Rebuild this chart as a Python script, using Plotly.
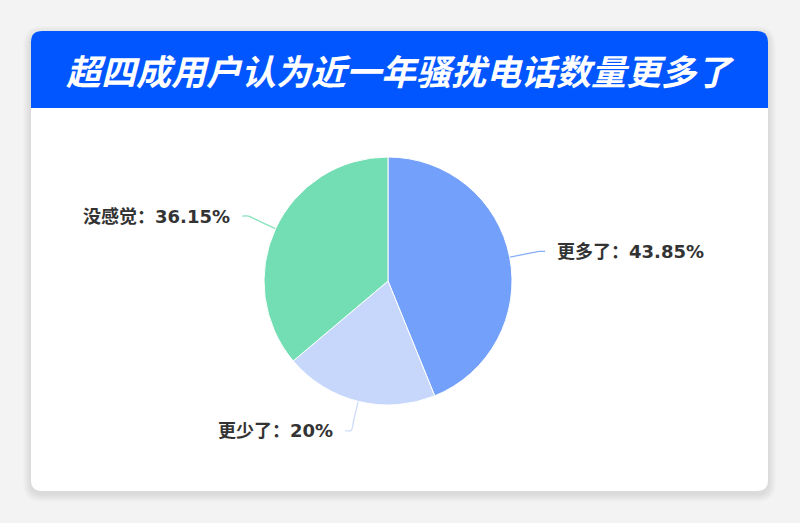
import math
import plotly.graph_objects as go

# ---- data ----
categories = ["更多了", "更少了", "没感觉"]
values = [43.85, 20, 36.15]
value_labels = ["43.85%", "20%", "36.15%"]
colors = ["#73a0fa", "#c6d7fb", "#73deb3"]
title_text = "超四成用户认为近一年骚扰电话数量更多了"

# ---- layout geometry (pixels) ----
W, H = 800, 523
cx, cy, R = 388, 281, 124
L1, L2, GAP = 30, 6, 10
card = (31, 31, 768, 491)
header_bottom = 108
rad = 11
BG = "#f3f3f3"


def rrect(x0, y0, x1, y1, r, top_only=False):
    if top_only:
        return (f"M{x0},{y1} L{x0},{y0+r} Q{x0},{y0} {x0+r},{y0} L{x1-r},{y0} "
                f"Q{x1},{y0} {x1},{y0+r} L{x1},{y1} Z")
    return (f"M{x0},{y0+r} Q{x0},{y0} {x0+r},{y0} L{x1-r},{y0} Q{x1},{y0} {x1},{y0+r} "
            f"L{x1},{y1-r} Q{x1},{y1} {x1-r},{y1} L{x0+r},{y1} Q{x0},{y1} {x0},{y1-r} Z")


shapes = []
# soft shadow
for i in range(8, 0, -1):
    shapes.append(dict(type="path", xref="x", yref="y", layer="below",
                       path=rrect(card[0]-i, card[1]-i+3, card[2]+i, card[3]+i+3, rad+i),
                       fillcolor="rgba(0,0,0,0.012)", line=dict(width=0)))
shapes.append(dict(type="path", xref="x", yref="y", layer="below",
                   path=rrect(*card, rad), fillcolor="#ffffff", line=dict(width=0)))
shapes.append(dict(type="path", xref="x", yref="y", layer="below",
                   path=rrect(card[0], card[1], card[2], header_bottom, rad, top_only=True),
                   fillcolor="#0256ff", line=dict(width=0)))

fig = go.Figure()

fig.add_trace(go.Pie(
    labels=categories, values=values, sort=False, direction="clockwise", rotation=0,
    marker=dict(colors=colors, line=dict(color="#ffffff", width=1)),
    textinfo="none", hoverinfo="label+percent", showlegend=False,
    domain=dict(x=[(cx-R)/W, (cx+R)/W], y=[(H-cy-R)/H, (H-cy+R)/H]),
))

annotations = []
total = sum(values)
cum = 0.0
for cat, v, vl, col in zip(categories, values, value_labels, colors):
    theta = 2*math.pi*(cum + v/2)/total
    cum += v
    dx, dy = math.sin(theta), -math.cos(theta)
    p0 = (cx + (R-1)*dx, cy + (R-1)*dy)
    p1 = (cx + (R+L1)*dx, cy + (R+L1)*dy)
    side = 1 if dx >= 0 else -1
    p2 = (p1[0] + side*L2, p1[1])
    pm = (cx + (R+L1*0.6)*dx, cy + (R+L1*0.6)*dy)
    fig.add_trace(go.Scatter(x=[p0[0], pm[0], p1[0], p2[0]], y=[p0[1], pm[1], p1[1], p2[1]],
                             mode="lines", line=dict(color=col, width=1.3, shape="spline", smoothing=0.8),
                             opacity=0.85, hoverinfo="skip", showlegend=False))
    annotations.append(dict(
        x=p2[0] + side*GAP, y=p2[1], xref="x", yref="y",
        text=f"{cat}：{vl}", showarrow=False,
        xanchor="left" if side > 0 else "right", yanchor="middle",
        font=dict(family="DejaVu Sans, Noto Sans CJK SC", size=18, color="#333333", weight="bold"),
    ))

annotations.append(dict(
    x=400, y=(card[1]+header_bottom)/2, xref="x", yref="y", text=title_text, showarrow=False,
    xanchor="center", yanchor="middle",
    font=dict(family="Noto Sans CJK SC", size=35, color="#ffffff", weight="bold", style="italic"),
))

fig.update_layout(
    width=W, height=H, margin=dict(l=0, r=0, t=0, b=0),
    paper_bgcolor=BG, plot_bgcolor="rgba(0,0,0,0)",
    xaxis=dict(range=[0, W], visible=False, fixedrange=True, domain=[0, 1]),
    yaxis=dict(range=[H, 0], visible=False, fixedrange=True, domain=[0, 1]),
    shapes=shapes, annotations=annotations,
)

fig.write_html("out.html", config={"displayModeBar": False},
               post_script=f"document.body.style.margin='0';document.body.style.background='{BG}';document.body.style.overflow='hidden';")
